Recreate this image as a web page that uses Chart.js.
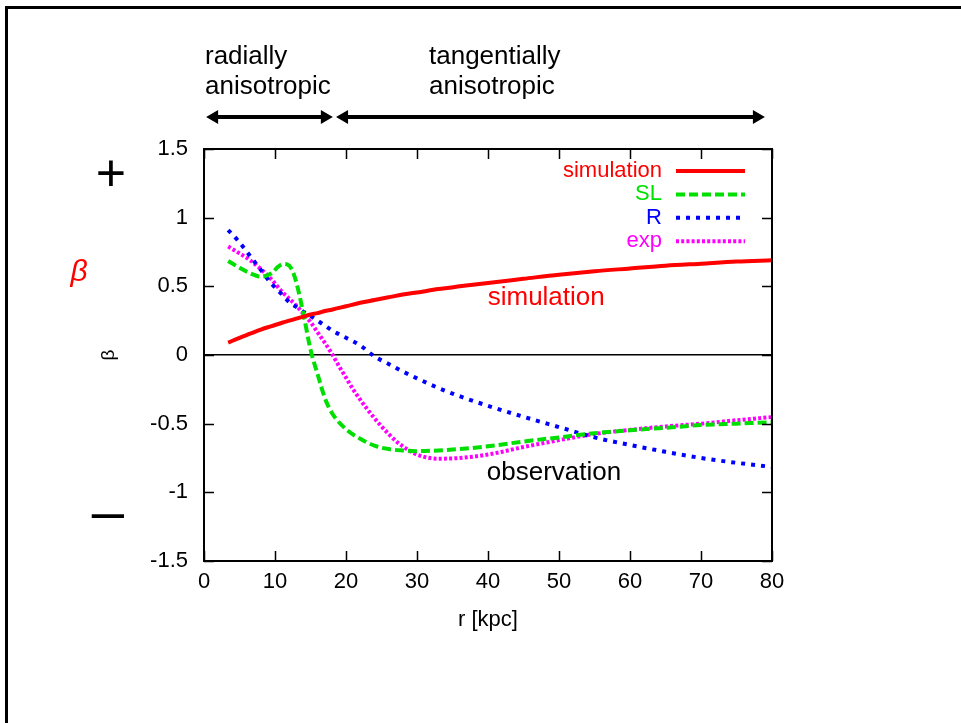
<!DOCTYPE html>
<html>
<head>
<meta charset="utf-8">
<script src="https://cdn.jsdelivr.net/npm/chart.js@4/dist/chart.umd.min.js"></script>
<style>
  html, body { margin: 0; padding: 0; background: #fff; }
  #wrap { position: absolute; left: 0; top: 0; width: 961px; height: 723px; }
</style>
</head>
<body>
<div id="wrap"><canvas id="c" width="961" height="723"></canvas></div>
<script>
// ---- data ----
const rGrid = [3.4, 5, 6.5, 8, 9.5, 11, 12, 13, 14, 15, 16, 17, 18, 20, 22, 24, 26, 28, 30, 33, 36, 40, 45, 50, 55, 60, 65, 70, 75, 80];
const betaSimulation = [0.09, 0.125, 0.155, 0.185, 0.21, 0.235, 0.25, 0.265, 0.28, 0.295, 0.305, 0.32, 0.33, 0.355, 0.38, 0.40, 0.42, 0.44, 0.455, 0.48, 0.50, 0.525, 0.555, 0.585, 0.61, 0.63, 0.65, 0.665, 0.68, 0.69];
const betaR = [0.91, 0.82, 0.72, 0.62, 0.52, 0.44, 0.385, 0.35, 0.315, 0.285, 0.25, 0.215, 0.18, 0.125, 0.07, -0.01, -0.065, -0.12, -0.17, -0.24, -0.30, -0.37, -0.45, -0.525, -0.60, -0.655, -0.705, -0.75, -0.785, -0.815];
const rExp = [3.4, 5, 6.5, 8, 9.5, 11, 12, 13, 14, 15, 16, 17, 18, 19, 20, 21, 22, 23, 24, 25, 26, 27, 28, 30, 33, 36, 40, 45, 50, 55, 60, 65, 70, 75, 80];
const betaExp = [0.79, 0.74, 0.69, 0.625, 0.55, 0.46, 0.41, 0.36, 0.30, 0.24, 0.165, 0.09, 0.01, -0.08, -0.165, -0.25, -0.325, -0.395, -0.46, -0.52, -0.575, -0.625, -0.665, -0.725, -0.755, -0.75, -0.725, -0.67, -0.62, -0.575, -0.545, -0.52, -0.50, -0.475, -0.452];
const rSL = [3.4, 5, 6.5, 8, 9.5, 10.5, 11.2, 11.7, 12.3, 13, 14, 15, 16, 17, 18, 20, 22, 24, 26, 28, 30, 33, 36, 40, 45, 50, 55, 60, 65, 70, 75, 80];
const betaSL = [0.685, 0.635, 0.595, 0.57, 0.595, 0.645, 0.663, 0.66, 0.63, 0.53, 0.30, 0.04, -0.14, -0.31, -0.42, -0.54, -0.61, -0.66, -0.685, -0.695, -0.70, -0.695, -0.685, -0.665, -0.63, -0.60, -0.57, -0.548, -0.53, -0.51, -0.50, -0.49];
const seriesNames = ['simulation', 'SL', 'R', 'exp'];
const xTicksRange = [0, 80, 10];
const yTicksRange = [-1.5, 1.5, 0.5];
// regions marked above the plot (in r [kpc])
const regionRadial = [0.3, 18.15];
const regionTangential = [18.6, 79.0];

const FONT = '"Liberation Sans", Arial, sans-serif';
const pts = (xs, ys) => xs.map((x, i) => ({x: x, y: ys[i]}));

const decorations = {
  id: 'decorations',
  beforeDraw(chart) {
    const ctx = chart.ctx;
    ctx.save();
    ctx.fillStyle = '#fff';
    ctx.fillRect(0, 0, chart.width, chart.height);
    // outer frame (left & top)
    ctx.fillStyle = '#000';
    ctx.fillRect(5, 6, chart.width - 5, 3);
    ctx.fillRect(5, 6, 3, chart.height - 6);
    ctx.restore();
  },
  afterDraw(chart) {
    const ctx = chart.ctx;
    const a = chart.chartArea;
    const xs = chart.scales.x, ys = chart.scales.y;
    ctx.save();
    // plot frame
    ctx.strokeStyle = '#000';
    ctx.lineWidth = 2;
    ctx.strokeRect(a.left, a.top, a.right - a.left, a.bottom - a.top);
    // inward ticks
    ctx.lineWidth = 1.5;
    ctx.beginPath();
    xs.ticks.forEach(t => {
      const p = Math.round(xs.getPixelForValue(t.value)) + 0.5;
      ctx.moveTo(p, a.bottom); ctx.lineTo(p, a.bottom - 10);
      ctx.moveTo(p, a.top); ctx.lineTo(p, a.top + 10);
    });
    ys.ticks.forEach(t => {
      const p = Math.round(ys.getPixelForValue(t.value)) + 0.5;
      ctx.moveTo(a.left, p); ctx.lineTo(a.left + 10, p);
      ctx.moveTo(a.right, p); ctx.lineTo(a.right - 10, p);
    });
    ctx.stroke();

    // legend (key) inside top-right
    const ds = chart.data.datasets;
    ctx.font = '22px ' + FONT;
    ctx.textAlign = 'right';
    ctx.textBaseline = 'middle';
    ds.forEach((d, i) => {
      const y = a.top + 22 + i * 23.4;
      ctx.fillStyle = d.borderColor;
      ctx.fillText(d.label, a.right - 110, y);
      ctx.save();
      ctx.strokeStyle = d.borderColor;
      ctx.lineWidth = d.borderWidth;
      ctx.setLineDash(d.borderDash || []);
      ctx.beginPath();
      ctx.moveTo(a.right - 96, y);
      ctx.lineTo(a.right - (i === 2 ? 32 : 27), y);
      ctx.stroke();
      ctx.restore();
    });

    // in-plot annotations
    ctx.textAlign = 'center';
    ctx.font = '26px ' + FONT;
    ctx.fillStyle = '#ff0000';
    ctx.fillText('simulation', xs.getPixelForValue(48.2), ys.getPixelForValue(0.415));
    ctx.fillStyle = '#000';
    ctx.fillText('observation', xs.getPixelForValue(49.3), ys.getPixelForValue(-0.855));

    // region arrows above plot
    const ay = 117;
    const arrow = (x1, x2) => {
      ctx.lineWidth = 4;
      ctx.beginPath();
      ctx.moveTo(x1 + 6, ay); ctx.lineTo(x2 - 6, ay);
      ctx.stroke();
      ctx.beginPath();
      ctx.moveTo(x1, ay); ctx.lineTo(x1 + 12, ay - 7); ctx.lineTo(x1 + 12, ay + 7); ctx.closePath();
      ctx.moveTo(x2, ay); ctx.lineTo(x2 - 12, ay - 7); ctx.lineTo(x2 - 12, ay + 7); ctx.closePath();
      ctx.fill();
    };
    ctx.strokeStyle = '#000';
    ctx.fillStyle = '#000';
    arrow(xs.getPixelForValue(regionRadial[0]), xs.getPixelForValue(regionRadial[1]));
    arrow(xs.getPixelForValue(regionTangential[0]), xs.getPixelForValue(regionTangential[1]));

    ctx.textAlign = 'left';
    ctx.font = '26px ' + FONT;
    ctx.fillText('radially', 205, 57);
    ctx.fillText('anisotropic', 205, 87);
    ctx.fillText('tangentially', 429, 57);
    ctx.fillText('anisotropic', 429, 87);

    // side symbols
    ctx.textAlign = 'center';
    ctx.font = '52px ' + FONT;
    ctx.fillText('+', 111, 177);
    ctx.font = '58px ' + FONT;
    ctx.fillText('–', 108, 515);
    ctx.fillStyle = '#ff0000';
    ctx.font = 'italic 30px ' + FONT;
    ctx.fillText('β', 79, 273);
    ctx.restore();
  }
};

new Chart(document.getElementById('c'), {
  type: 'line',
  data: {
    datasets: [
      { label: seriesNames[0], data: pts(rGrid, betaSimulation), borderColor: '#ff0000', borderWidth: 4, pointRadius: 0, cubicInterpolationMode: 'monotone', fill: false },
      { label: seriesNames[1], data: pts(rSL, betaSL), borderColor: '#00e000', borderWidth: 4, borderDash: [9, 4], pointRadius: 0, cubicInterpolationMode: 'monotone', fill: false },
      { label: seriesNames[2], data: pts(rGrid, betaR), borderColor: '#0000ff', borderWidth: 4, borderDash: [4, 6], pointRadius: 0, cubicInterpolationMode: 'monotone', fill: false },
      { label: seriesNames[3], data: pts(rExp, betaExp), borderColor: '#ff00ff', borderWidth: 4, borderDash: [3, 2.2], pointRadius: 0, cubicInterpolationMode: 'monotone', fill: false }
    ]
  },
  options: {
    responsive: false,
    animation: false,
    devicePixelRatio: 1,
    layout: { padding: { left: 95, right: 189, top: 149, bottom: 82 } },
    plugins: { legend: { display: false }, tooltip: { enabled: false } },
    scales: {
      x: {
        type: 'linear', min: xTicksRange[0], max: xTicksRange[1],
        ticks: { stepSize: xTicksRange[2], color: '#000', font: { family: FONT, size: 22 }, padding: 8, maxRotation: 0 },
        grid: { display: false, drawTicks: false },
        border: { display: false },
        title: { display: true, text: 'r [kpc]', color: '#000', font: { family: FONT, size: 22 }, padding: { top: 0, bottom: 8 } },
        afterFit: s => { s.height = 80; }
      },
      y: {
        type: 'linear', min: yTicksRange[0], max: yTicksRange[1],
        ticks: { stepSize: yTicksRange[2], color: '#000', font: { family: FONT, size: 22 }, padding: 16,
                 callback: v => String(Math.round(v * 10) / 10) },
        grid: { drawTicks: false, lineWidth: 1.5, color: c => (c.tick && c.tick.value === 0) ? '#000' : 'rgba(0,0,0,0)' },
        border: { display: false },
        title: { display: true, text: 'β', color: '#000', font: { family: FONT, size: 19 }, padding: { top: 2, bottom: 0 } },
        afterFit: s => { s.width = 109; }
      }
    }
  },
  plugins: [decorations]
});
</script>
</body>
</html>
